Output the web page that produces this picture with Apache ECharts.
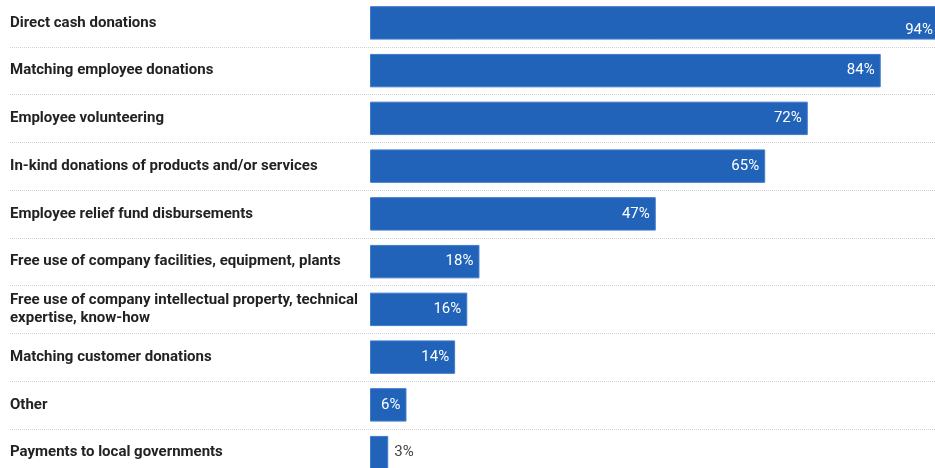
<!DOCTYPE html>
<html>
<head>
<meta charset="utf-8">
<script src="https://cdn.jsdelivr.net/npm/echarts@6/dist/echarts.min.js"></script>
<style>
  html, body { margin: 0; padding: 0; background: #fff; }
  #chart { width: 935px; height: 468px; }
</style>
</head>
<body>
<div id="chart"></div>
<script>
// Forms of corporate giving, share of companies (%)
const categories = [
  'Direct cash donations',
  'Matching employee donations',
  'Employee volunteering',
  'In-kind donations of products and/or services',
  'Employee relief fund disbursements',
  'Free use of company facilities, equipment, plants',
  'Free use of company intellectual property, technical expertise, know-how',
  'Matching customer donations',
  'Other',
  'Payments to local governments'
];
const shares = [94, 84, 72, 65, 47, 18, 16, 14, 6, 3];

const WIDTH = 935;
const BLUE = '#2163b9';

const chart = echarts.init(document.getElementById('chart'), null, { renderer: 'canvas' });

const gridTop = -1;
const gridHeight = 477.5;

chart.setOption({
  animation: false,
  backgroundColor: '#ffffff',
  grid: [
    // full-width grid: category labels and dotted row separators
    { left: 10, width: 925, top: gridTop, height: gridHeight, outerBoundsMode: 'none' },
    // bar area (runs past the right edge of the canvas)
    { left: 370, width: 608, top: gridTop, height: gridHeight, outerBoundsMode: 'none' }
  ],
  xAxis: [
    { gridIndex: 0, type: 'value', min: 0, max: 100, show: false },
    { gridIndex: 1, type: 'value', min: 0, max: 100, show: false }
  ],
  yAxis: [
    {
      gridIndex: 0,
      type: 'category',
      inverse: true,
      data: categories,
      axisLine: { show: false },
      axisTick: { show: false },
      splitLine: {
        show: true,
        lineStyle: { color: '#d2d2d2', type: [1, 1], width: 1 }
      },
      axisLabel: {
        inside: true,
        margin: 0,
        align: 'left',
        color: '#222222',
        fontFamily: 'Roboto',
        fontWeight: 'bold',
        fontSize: 15,
        lineHeight: 18,
        width: 360,
        overflow: 'break'
      }
    },
    {
      gridIndex: 1,
      type: 'category',
      inverse: true,
      data: categories,
      show: false
    }
  ],
  series: [
    {
      type: 'bar',
      xAxisIndex: 1,
      yAxisIndex: 1,
      data: shares.map(v => ({
        value: v,
        label: v < 5
          ? { position: 'right', color: '#444444' }
          : { position: 'insideRight', color: '#ffffff' }
      })),
      barCategoryGap: '30%',
      itemStyle: { color: BLUE, borderColor: '#3f7acb', borderWidth: 1 },
      label: {
        show: true,
        distance: 6,
        fontFamily: 'Roboto',
        fontSize: 15,
        formatter: p => p.value + '%'
      }
    }
  ],
  // keep value labels of very long bars inside the visible canvas
  labelLayout: function (params) {
    const r = params.labelRect;
    if (r.x + r.width > WIDTH - 2) {
      return { x: WIDTH - 2 - r.width, align: 'left' };
    }
    return {};
  }
});
</script>
</body>
</html>
